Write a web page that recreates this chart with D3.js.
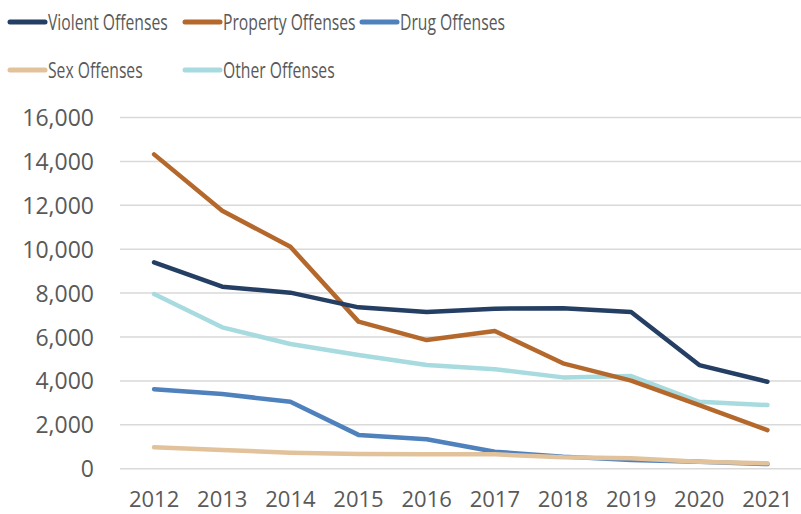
<!DOCTYPE html>
<html>
<head>
<meta charset="utf-8">
<script src="https://cdn.jsdelivr.net/npm/d3@7"></script>
<style>
  body { margin: 0; background: #fff; }
  svg { display: block; }
</style>
</head>
<body>
<svg></svg>
<script>
const width = 801;
const height = 514;

// Données
const years = ["2012", "2013", "2014", "2015", "2016", "2017", "2018", "2019", "2020", "2021"];
const violent = [9400, 8290, 8020, 7350, 7140, 7290, 7310, 7140, 4720, 3960];
const property = [14320, 11750, 10110, 6700, 5860, 6270, 4800, 4010, 2900, 1760];
const drug = [3620, 3400, 3050, 1540, 1340, 770, 550, 400, 320, 210];
const sex = [975, 850, 730, 670, 655, 655, 520, 475, 320, 245];
const other = [7960, 6440, 5680, 5180, 4720, 4530, 4160, 4220, 3050, 2900];
const yTicks = [0, 2000, 4000, 6000, 8000, 10000, 12000, 14000, 16000];

const series = [
  { name: "Violent Offenses", values: violent, color: "#243f63" },
  { name: "Property Offenses", values: property, color: "#b4682c" },
  { name: "Drug Offenses", values: drug, color: "#4f81bd" },
  { name: "Sex Offenses", values: sex, color: "#e2c29b" },
  { name: "Other Offenses", values: other, color: "#a7dbdf" }
];
// ordre de dessin (le dernier est au-dessus)
const drawOrder = [4, 1, 0, 2, 3];

const svg = d3.select("svg")
  .attr("width", width)
  .attr("height", height);

// Échelles
const x = d3.scaleBand()
  .domain(years)
  .range([120, 801.5]);

const y = d3.scaleLinear()
  .domain([0, 16000])
  .range([468.7, 117.5]);

// Grille
svg.append("g")
  .selectAll("line")
  .data(yTicks)
  .join("line")
  .attr("x1", 120)
  .attr("x2", 801)
  .attr("y1", d => y(d))
  .attr("y2", d => y(d))
  .attr("stroke", "#d9d9d9")
  .attr("stroke-width", 1.5);

// Axe Y
const yAxis = svg.append("g")
  .attr("transform", "translate(94,0)")
  .call(d3.axisLeft(y).tickValues(yTicks).tickSize(0).tickPadding(0).tickFormat(d3.format(",")));
yAxis.select(".domain").remove();
yAxis.selectAll("text")
  .attr("fill", "#595959")
  .attr("font-family", "'Open Sans', sans-serif")
  .attr("font-size", 23)
  .attr("dy", "0.35em");

// Axe X
const xAxis = svg.append("g")
  .attr("transform", "translate(0,468.7)")
  .call(d3.axisBottom(x).tickSize(0).tickPadding(0));
xAxis.select(".domain").remove();
xAxis.selectAll("text")
  .attr("fill", "#595959")
  .attr("font-family", "'Open Sans', sans-serif")
  .attr("font-size", 22)
  .attr("dy", "1.74em");

// Lignes
const line = d3.line()
  .x((d, i) => x(years[i]) + x.bandwidth() / 2)
  .y(d => y(d));

svg.append("g")
  .selectAll("path")
  .data(drawOrder.map(i => series[i]))
  .join("path")
  .attr("d", d => line(d.values))
  .attr("fill", "none")
  .attr("stroke", d => d.color)
  .attr("stroke-width", 4.5)
  .attr("stroke-linejoin", "round")
  .attr("stroke-linecap", "round");

// Légende
const legendPos = [
  [10, 22], [185, 22], [362, 22],
  [10, 70], [185, 70]
];
const legend = svg.append("g")
  .selectAll("g")
  .data(series)
  .join("g")
  .attr("transform", (d, i) => `translate(${legendPos[i][0]},${legendPos[i][1]})`);

legend.append("line")
  .attr("x1", 0)
  .attr("x2", 35)
  .attr("stroke", d => d.color)
  .attr("stroke-width", 5)
  .attr("stroke-linecap", "round");

// texte condensé (police étroite façon Calibri)
legend.append("text")
  .attr("transform", "translate(38,0) scale(0.73,1)")
  .attr("dy", "0.35em")
  .attr("fill", "#595959")
  .attr("font-family", "'Open Sans', sans-serif")
  .attr("font-size", 21.5)
  .text(d => d.name);
</script>
</body>
</html>
